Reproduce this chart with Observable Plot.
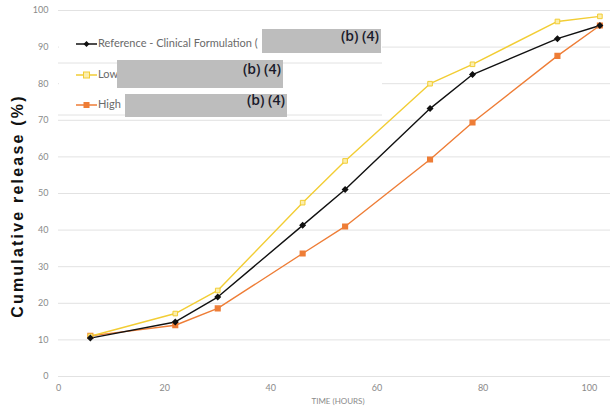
<!DOCTYPE html>
<html><head><meta charset="utf-8">
<script src="https://cdn.jsdelivr.net/npm/d3@7"></script>
<script src="https://cdn.jsdelivr.net/npm/@observablehq/plot@0.6"></script>
<style>body{margin:0;background:#fff;} #c{position:relative;width:610px;height:410px;}</style>
</head><body><div id="c"></div>
<script>
const hours = [6, 22, 30, 46, 54, 70, 78, 94, 102];
const reference = [10.5, 14.9, 21.7, 41.3, 51.1, 73.2, 82.5, 92.3, 95.9];
const low = [11.0, 17.2, 23.5, 47.5, 58.9, 80.0, 85.3, 97.0, 98.4];
const high = [11.1, 14.0, 18.6, 33.6, 41.0, 59.3, 69.4, 87.6, 95.9];
const seriesNames = ["Reference - Clinical Formulation (", "Low", "High"];
const xTicks = [0, 20, 40, 60, 80, 100];
const yTicks = [0, 10, 20, 30, 40, 50, 60, 70, 80, 90, 100];
const redaction = "(b) (4)";

const colors = {"Reference": "#111111", "Low": "#f2cd34", "High": "#ee7d36"};
const rows = [];
hours.forEach((h, i) => {
  rows.push({t: h, v: reference[i], s: "Reference"});
  rows.push({t: h, v: low[i], s: "Low"});
  rows.push({t: h, v: high[i], s: "High"});
});
const font = "Lato, 'Open Sans', sans-serif";
const plot = Plot.plot({
  width: 610, height: 410,
  marginLeft: 58, marginRight: 0, marginTop: 10, marginBottom: 34,
  style: {fontFamily: font, fontSize: "9px", color: "#8a8a8a", background: "#fff"},
  x: {domain: [0, 104], ticks: xTicks, tickSize: 0, tickPadding: 8, label: null},
  y: {domain: [0, 100], ticks: yTicks, tickSize: 0, tickPadding: 10, label: null},
  marks: [
    Plot.ruleY(yTicks, {stroke: "#e2e2e2", strokeWidth: 1}),
    Plot.line(rows.filter(d => d.s === "High"), {x: "t", y: "v", stroke: colors.High, strokeWidth: 1.4}),
    Plot.line(rows.filter(d => d.s === "Low"), {x: "t", y: "v", stroke: colors.Low, strokeWidth: 1.4}),
    Plot.line(rows.filter(d => d.s === "Reference"), {x: "t", y: "v", stroke: colors.Reference, strokeWidth: 1.4}),
    Plot.dot(rows.filter(d => d.s === "High"), {x: "t", y: "v", symbol: "square", r: 2.6, fill: colors.High, stroke: colors.High}),
    Plot.dot(rows.filter(d => d.s === "Low"), {x: "t", y: "v", symbol: "square", r: 2.6, fill: "#fbeeae", stroke: colors.Low, strokeWidth: 1}),
    Plot.dot(rows.filter(d => d.s === "Reference"), {x: "t", y: "v", symbol: "diamond2", r: 2.2, fill: colors.Reference, stroke: colors.Reference})
  ]
});
document.getElementById("c").appendChild(plot);

const svg = d3.select(plot);
// axis titles
svg.append("text").attr("transform", "translate(19,206) rotate(-90)")
  .attr("text-anchor", "middle").attr("dominant-baseline", "middle")
  .style("font-family", "'Liberation Sans', Arial, sans-serif").style("font-weight", "bold")
  .style("font-size", "16px").style("fill", "#111").style("letter-spacing", "2.2px")
  .text("Cumulative release (%)");
svg.append("text").attr("x", 338).attr("y", 404).attr("text-anchor", "middle")
  .style("font-family", font).style("font-size", "8px").style("fill", "#8a8a8a")
  .text("TIME (HOURS)");

// legend
const lg = svg.append("g").attr("text-anchor", "start");
lg.append("rect").attr("x", 59).attr("y", 13).attr("width", 323).attr("height", 101).attr("fill", "#fff");
lg.append("line").attr("x1", 58).attr("x2", 382).attr("y1", 63).attr("y2", 63).attr("stroke", "#e2e2e2");
lg.append("line").attr("x1", 58).attr("x2", 382).attr("y1", 115).attr("y2", 115).attr("stroke", "#e2e2e2");
const boxes = [
  {x0: 262, x1: 381, y0: 29, y1: 53},
  {x0: 117, x1: 283, y0: 60, y1: 88},
  {x0: 125, x1: 287, y0: 94, y1: 117}
];
const legY = [44, 75, 105];
const keys = ["Reference", "Low", "High"];
keys.forEach((k, i) => {
  const y = legY[i];
  lg.append("line").attr("x1", 76).attr("x2", 97).attr("y1", y).attr("y2", y)
    .attr("stroke", colors[k]).attr("stroke-width", 1.5);
  if (k === "Reference") {
    lg.append("path").attr("d", `M86.5,${y-3}L89.5,${y}L86.5,${y+3}L83.5,${y}Z`).attr("fill", colors[k]);
  } else if (k === "Low") {
    lg.append("rect").attr("x", 83.5).attr("y", y - 3).attr("width", 6).attr("height", 6)
      .attr("fill", "#fbeeae").attr("stroke", colors[k]);
  } else {
    lg.append("rect").attr("x", 83.5).attr("y", y - 3).attr("width", 6).attr("height", 6)
      .attr("fill", colors[k]);
  }
  lg.append("text").attr("x", 98).attr("y", y).attr("text-anchor", "start").attr("dominant-baseline", "middle")
    .style("font-family", font).style("font-size", "11px").style("fill", "#6a6a6a")
    .text(seriesNames[i]);
  const b = boxes[i];
  lg.append("rect").attr("x", b.x0).attr("y", b.y0).attr("width", b.x1 - b.x0).attr("height", b.y1 - b.y0)
    .attr("fill", "#bdbdbd");
  lg.append("text").attr("x", b.x1 - 2).attr("y", (b.y0 + b.y1) / 2 - 4).attr("text-anchor", "end")
    .attr("dominant-baseline", "middle")
    .style("font-family", "'Open Sans', 'Liberation Sans', sans-serif").style("font-size", "14px").style("font-weight", "600")
    .style("fill", "#1a1a2a").text(redaction);
});
</script></body></html>
